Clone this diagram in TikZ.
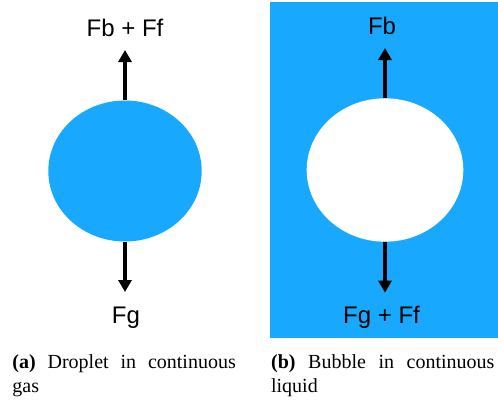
\documentclass[tikz,border=0pt]{standalone}
\usepackage{fontspec}
\setmainfont{Liberation Serif}
\newfontfamily\forcefont{Liberation Sans}
\usepackage{tikz}
\usetikzlibrary{arrows.meta, shapes.geometric}

\definecolor{fluid}{RGB}{24,169,255}

\tikzset{
  force/.style={line width=1.6pt, -{Triangle[width=6.5pt,length=6pt]}},
  flabel/.style={font=\forcefont\fontsize{12}{14}\selectfont, inner sep=0pt, anchor=base},
  blob/.style={ellipse, inner sep=0pt},
  subcap/.style={text width=111.7pt, align=justify, inner sep=0pt, anchor=north west,
    font=\fontsize{10}{12}\selectfont}
}

\begin{document}
\begin{tikzpicture}[x=0.5pt, y=-0.5pt]
    \useasboundingbox (0,0) rectangle (498,402);

    % (a) droplet
    \node[blob, fill=fluid, minimum width=76.7pt, minimum height=70.5pt] at (125,171) (drop) {};
    \coordinate (dropup) at (125,50);
    \coordinate (dropdown) at (125,292);
    \node[flabel] at (125,36.7) (dropFb) {Fb + Ff};
    \node[flabel] at (126,323) (dropFg) {Fg};

    \draw[force] (drop.north) -- (dropup);
    \draw[force] (drop.south) -- (dropdown);

    \node[subcap] at (12,354) (capa) {\textbf{(a)} Droplet in continuous gas};

    % (b) bubble
    \fill[fluid] (270,2) rectangle (498,337.7);
    \node[blob, fill=white, minimum width=78.3pt, minimum height=71.7pt] at (385,170) (bubble) {};
    \coordinate (bubbleup) at (385,48);
    \coordinate (bubbledown) at (385,292.7);
    \node[flabel] at (382,34) (bubbleFb) {Fb};
    \node[flabel] at (381.5,323) (bubbleFg) {Fg + Ff};

    \draw[force] (bubble.north) -- (bubbleup);
    \draw[force] (bubble.south) -- (bubbledown);

    \node[subcap] at (270.7,354) (capb) {\textbf{(b)} Bubble in continuous liquid};
\end{tikzpicture}
\end{document}
